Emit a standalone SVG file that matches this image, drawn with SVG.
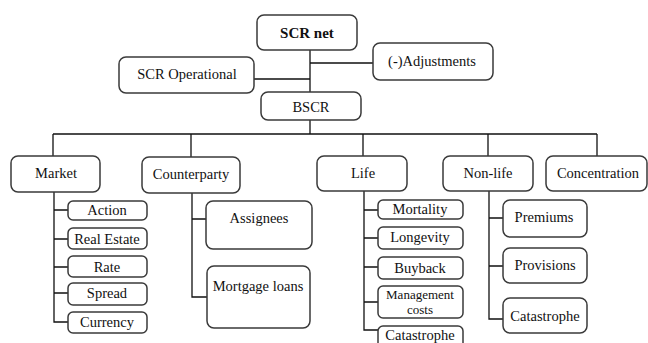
<svg xmlns="http://www.w3.org/2000/svg" width="648" height="343" viewBox="0 0 648 343">
<style>
.b{fill:#fff;stroke:#3a3a3a;stroke-width:1.5}
text{font-family:'Liberation Serif','Times New Roman','DejaVu Serif',serif;font-size:14.5px;fill:#111;text-anchor:middle}
.bold{font-weight:bold;font-size:15px}
.sm{font-size:13px}
.c{fill:none;stroke:#111;stroke-width:1.3}
</style>
<rect width="648" height="343" fill="#fff"/>
<g id="connectors">
<path class="c" d="M310 50V92M310 63H373M254 79H310M310 120V134M53 134H597M53 134V156M191 134V157M363 134V156M488 134V156M597 134V156"/>
<path class="c" d="M54 192V322H68M54 210H68M54 239H68M54 267H68M54 293H68"/>
<path class="c" d="M192 193V297H207M192 219H206"/>
<path class="c" d="M364 191V330H378M364 210H378M364 238H378M364 267H378M364 302H378"/>
<path class="c" d="M489 191V319H503M489 218H503M489 266H503"/>
</g>
<g id="scr-net"><rect class="b" x="257" y="15" width="100" height="35" rx="7"/><text class="bold" x="307" y="38">SCR net</text></g>
<g id="adjustments"><rect class="b" x="373" y="43" width="120" height="37" rx="7"/><text x="432" y="66">(-)Adjustments</text></g>
<g id="scr-operational"><rect class="b" x="119" y="57" width="135" height="36" rx="7"/><text x="187" y="79">SCR Operational</text></g>
<g id="bscr"><rect class="b" x="261" y="92" width="100" height="28" rx="7"/><text x="311" y="112">BSCR</text></g>
<g id="market"><rect class="b" x="11" y="156" width="89" height="36" rx="7"/><text x="56" y="178">Market</text></g>
<g id="counterparty"><rect class="b" x="142" y="157" width="98" height="36" rx="7"/><text x="191" y="179">Counterparty</text></g>
<g id="life"><rect class="b" x="317" y="156" width="90" height="35" rx="7"/><text x="363" y="178">Life</text></g>
<g id="non-life"><rect class="b" x="443" y="156" width="90" height="35" rx="7"/><text x="488" y="178">Non-life</text></g>
<g id="concentration"><rect class="b" x="546" y="156" width="101" height="35" rx="7"/><text x="598" y="178">Concentration</text></g>
<g id="action"><rect class="b" x="68" y="201" width="79" height="19" rx="5"/><text x="107" y="215">Action</text></g>
<g id="real-estate"><rect class="b" x="68" y="228" width="79" height="21" rx="5"/><text x="107" y="244">Real Estate</text></g>
<g id="rate"><rect class="b" x="68" y="256" width="79" height="21" rx="5"/><text x="107" y="272">Rate</text></g>
<g id="spread"><rect class="b" x="68" y="283" width="79" height="22" rx="5"/><text x="107" y="298">Spread</text></g>
<g id="currency"><rect class="b" x="68" y="312" width="79" height="21" rx="5"/><text x="107" y="327">Currency</text></g>
<g id="assignees"><rect class="b" x="206" y="201" width="106" height="48" rx="7"/><text x="259" y="223">Assignees</text></g>
<g id="mortgage-loans"><rect class="b" x="207" y="266" width="103" height="62" rx="7"/><text x="258" y="291">Mortgage loans</text></g>
<g id="mortality"><rect class="b" x="378" y="200" width="85" height="19" rx="5"/><text x="420" y="214">Mortality</text></g>
<g id="longevity"><rect class="b" x="378" y="227" width="85" height="22" rx="5"/><text x="420" y="242">Longevity</text></g>
<g id="buyback"><rect class="b" x="378" y="257" width="85" height="22" rx="5"/><text x="420" y="273">Buyback</text></g>
<g id="management-costs"><rect class="b" x="378" y="286" width="85" height="32" rx="5"/><text class="sm" x="420" y="299">Management</text><text class="sm" x="420" y="313.5">costs</text></g>
<g id="catastrophe-life"><rect class="b" x="378" y="326" width="85" height="24" rx="5"/><text x="420" y="340">Catastrophe</text></g>
<g id="premiums"><rect class="b" x="503" y="200" width="84" height="37" rx="7"/><text x="544" y="222">Premiums</text></g>
<g id="provisions"><rect class="b" x="503" y="248" width="84" height="35" rx="7"/><text x="545" y="270">Provisions</text></g>
<g id="catastrophe-nonlife"><rect class="b" x="503" y="298" width="84" height="35" rx="7"/><text x="545" y="321">Catastrophe</text></g>
</svg>
